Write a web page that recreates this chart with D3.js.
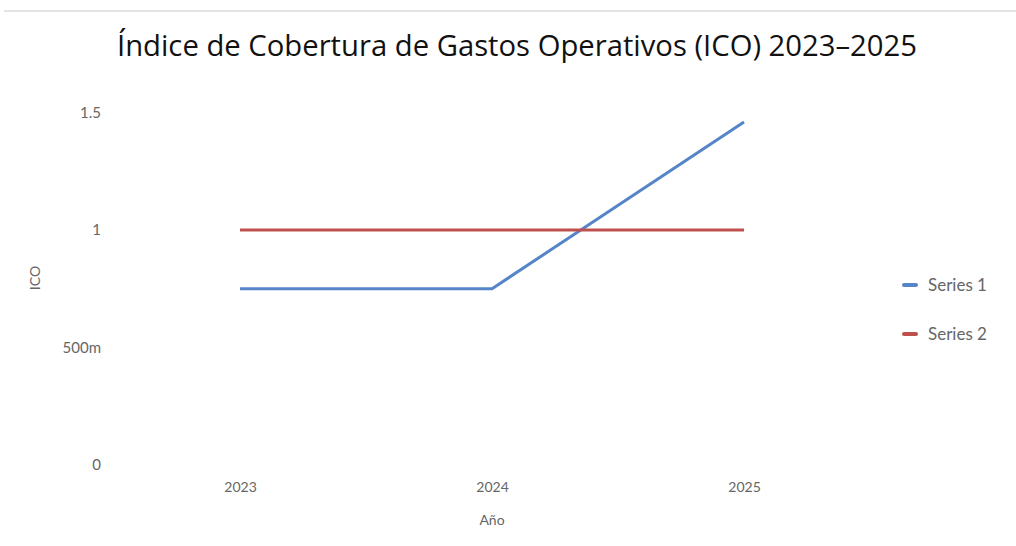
<!DOCTYPE html>
<html>
  <head>
    <style>
      body { margin: 0; background: #fff; }
      svg { display: block; }
      .tick text { font-family: Lato, sans-serif; font-size: 14px; fill: #666; }
      .y-axis .tick text { font-size: 15px; }
    </style>
  </head>
  <body>
    <svg></svg>
    <script src="https://d3js.org/d3.v7.min.js"></script>
    <script>
      // datos
      var years = [2023, 2024, 2025];
      var series1 = [0.75, 0.75, 1.46];
      var series2 = [1, 1, 1];
      var yTicks = [0, 0.5, 1, 1.5];
      var yTickLabels = ["0", "500m", "1", "1.5"];
      var seriesNames = ["Series 1", "Series 2"];
      var colors = ["#5585c8", "#c0504d"];

      var svgWidth = 1016, svgHeight = 546;
      var svg = d3.select("svg")
        .attr("width", svgWidth)
        .attr("height", svgHeight);

      // borde superior gris
      svg.append("line")
        .attr("x1", 4).attr("x2", svgWidth)
        .attr("y1", 11).attr("y2", 11)
        .attr("stroke", "#e3e3e3").attr("stroke-width", 2);

      svg.append("text")
        .attr("x", 117).attr("y", 56)
        .attr("text-anchor", "start")
        .attr("font-family", "Open Sans, sans-serif")
        .attr("font-size", 30)
        .attr("textLength", 800)
        .attr("lengthAdjust", "spacingAndGlyphs")
        .attr("fill", "#111")
        .text("Índice de Cobertura de Gastos Operativos (ICO) 2023–2025");

      var x = d3.scaleLinear().domain([2023, 2025]).range([240, 744]);
      var y = d3.scaleLinear().domain([0, 1.5]).range([465, 112.5]);

      // eje y
      svg.append("g")
        .attr("class", "y-axis")
        .attr("transform", "translate(107,0)")
        .call(d3.axisLeft(y).tickValues(yTicks).tickSize(0).tickPadding(6)
          .tickFormat((d, i) => yTickLabels[i]))
        .call(g => g.select(".domain").remove());

      // eje x
      svg.append("g")
        .attr("transform", "translate(0,476)")
        .call(d3.axisBottom(x).tickValues(years).tickSize(0).tickPadding(6)
          .tickFormat(d3.format("d")))
        .call(g => g.select(".domain").remove());

      svg.append("text")
        .attr("transform", "translate(40,278) rotate(-90)")
        .attr("text-anchor", "middle")
        .attr("font-family", "Lato, sans-serif")
        .attr("font-size", 14)
        .attr("fill", "#666")
        .text("ICO");

      svg.append("text")
        .attr("x", 492).attr("y", 525)
        .attr("text-anchor", "middle")
        .attr("font-family", "Lato, sans-serif")
        .attr("font-size", 14)
        .attr("fill", "#666")
        .text("Año");

      var line = d3.line()
        .x((d, i) => x(years[i]))
        .y(d => y(d));

      [series1, series2].forEach((s, i) => {
        svg.append("path")
          .attr("d", line(s))
          .attr("fill", "none")
          .attr("stroke", colors[i])
          .attr("stroke-width", 3);
      });

      // leyenda
      var legend = svg.append("g");
      seriesNames.forEach((name, i) => {
        var ly = 285 + i * 49;
        legend.append("line")
          .attr("x1", 904).attr("x2", 916)
          .attr("y1", ly).attr("y2", ly)
          .attr("stroke", colors[i])
          .attr("stroke-width", 4)
          .attr("stroke-linecap", "round");
        legend.append("text")
          .attr("x", 928).attr("y", ly + 6)
          .attr("font-family", "Lato, sans-serif")
          .attr("font-size", 17)
          .attr("fill", "#666")
          .text(name);
      });
    </script>
  </body>
</html>
